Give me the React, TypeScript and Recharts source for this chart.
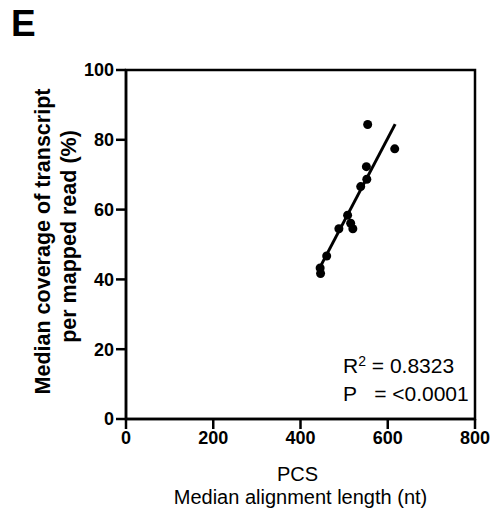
import { ScatterChart, Scatter, XAxis, YAxis, ReferenceArea } from "recharts";

// PCS median alignment length (nt) vs median coverage (%)
const alignLength = [554, 616, 551, 552, 538, 508, 515, 520, 488, 460, 445, 446];
const coverage = [84.4, 77.4, 72.3, 68.7, 66.6, 58.4, 56.1, 54.5, 54.5, 46.7, 43.3, 41.7];

// regression line end points
const fitX = [443, 617];
const fitY = [43.1, 84.5];

const xTicks = [0, 200, 400, 600, 800];
const yTicks = [0, 20, 40, 60, 80, 100];

const points = alignLength.map((x, i) => ({ x, y: coverage[i] }));
const fitLine = fitX.map((x, i) => ({ x, y: fitY[i] }));

const font = "'Liberation Sans', Arial, sans-serif";
const tickStyle = { fill: "#000", fontSize: 18, fontWeight: 700, fontFamily: font };

const YTitle = ({ viewBox }: any) => {
  const cy = viewBox.y + viewBox.height / 2;
  return (
    <g fontFamily={font} fontSize={21.5} fontWeight={700} fill="#000" textAnchor="middle">
      <text transform={`translate(50, ${cy - 3}) rotate(-90)`}>Median coverage of transcript</text>
      <text transform={`translate(76, ${cy - 8}) rotate(-90)`}>per mapped read (%)</text>
    </g>
  );
};

const XTitle = ({ viewBox }: any) => {
  const cx = viewBox.x + viewBox.width / 2;
  return (
    <g fontFamily={font} fontSize={20} fill="#000" textAnchor="middle">
      <text x={cx - 3} y={481}>PCS</text>
      <text x={cx} y={504}>Median alignment length (nt)</text>
    </g>
  );
};

const App = () => {
  return (
    <div style={{ position: "absolute", left: 0, top: 0, width: 500, height: 511, background: "#fff" }}>
      <div
        style={{
          position: "absolute",
          left: 11,
          top: 2,
          fontFamily: font,
          fontWeight: 700,
          fontSize: 37,
          lineHeight: "44px",
        }}
      >
        E
      </div>
      <ScatterChart width={500} height={511} margin={{ top: 70, right: 25, bottom: 62, left: 0 }}>
        <XAxis
          type="number"
          dataKey="x"
          domain={[0, 800]}
          ticks={xTicks}
          interval={0}
          height={30}
          stroke="#000"
          strokeWidth={2.5}
          tickSize={10}
          tick={tickStyle}
          label={{ content: XTitle }}
        />
        <YAxis
          type="number"
          dataKey="y"
          domain={[0, 100]}
          ticks={yTicks}
          interval={0}
          width={126}
          stroke="#000"
          strokeWidth={2.5}
          tickSize={10}
          tick={tickStyle}
          label={{ content: YTitle }}
        />
        <ReferenceArea x1={0} x2={800} y1={0} y2={100} fill="none" stroke="#000" strokeWidth={2.5} />
        <Scatter
          data={fitLine}
          line={{ stroke: "#000", strokeWidth: 3 }}
          shape={() => null}
          isAnimationActive={false}
        />
        <Scatter data={points} fill="#000" shape={(p: any) => <circle cx={p.cx} cy={p.cy} r={4.5} fill="#000" />} isAnimationActive={false} />
      </ScatterChart>
      <div
        style={{
          position: "absolute",
          left: 343,
          top: 352,
          fontFamily: font,
          fontSize: 21,
          lineHeight: "28px",
          color: "#000",
        }}
      >
        <div>
          R<sup style={{ fontSize: 14, verticalAlign: "7px", lineHeight: 0 }}>2</sup> = 0.8323
        </div>
        <div style={{ whiteSpace: "pre" }}>P   = &lt;0.0001</div>
      </div>
    </div>
  );
};

export default App;
